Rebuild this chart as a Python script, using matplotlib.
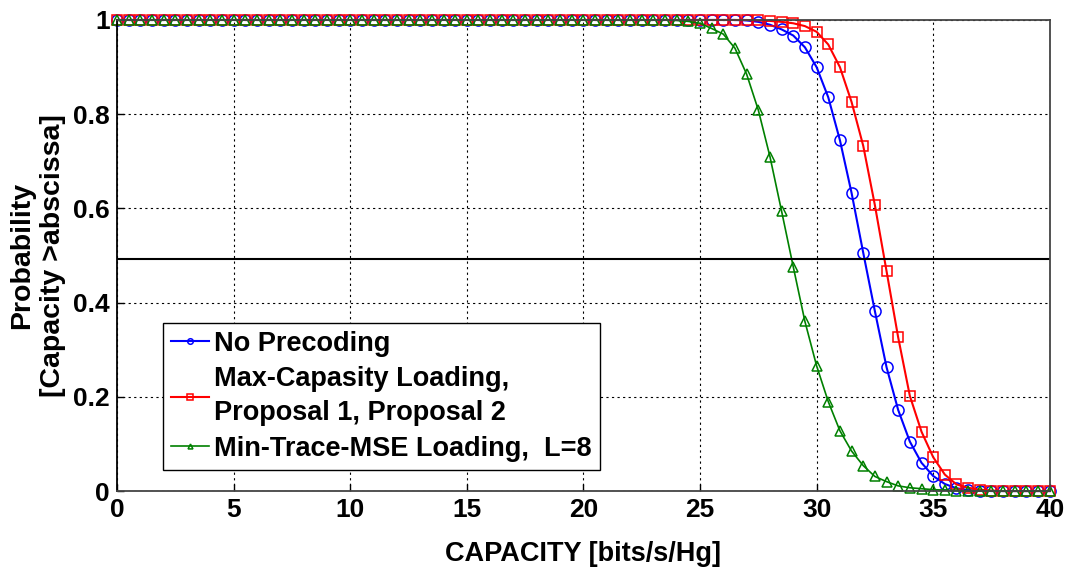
import numpy as np
import matplotlib
matplotlib.use('Agg')
import matplotlib.pyplot as plt

plt.rcParams['font.family'] = ['Liberation Sans', 'DejaVu Sans']
plt.rcParams['font.weight'] = 'bold'

# capacity grid (bits/s/Hz), one marker every 0.5
capacity = np.arange(0, 40.5, 0.5)

# P(capacity > abscissa), rows of 10 points (0-4.5, 5-9.5, ...)
no_precoding = [
    1, 1, 1, 1, 1, 1, 1, 1, 1, 1,
    1, 1, 1, 1, 1, 1, 1, 1, 1, 1,
    1, 1, 1, 1, 1, 1, 1, 1, 1, 1,
    1, 1, 1, 1, 1, 1, 1, 1, 1, 1,
    1, 1, 1, 1, 1, 1, 1, 1, 1, 1,
    1, 1, 1, 1, 0.999, 0.996, 0.99, 0.98, 0.967, 0.942,
    0.90, 0.836, 0.745, 0.633, 0.506, 0.382, 0.263, 0.172, 0.105, 0.060,
    0.032, 0.015, 0.006, 0.002, 0.001, 0, 0, 0, 0, 0,
    0,
]
max_capacity = [
    1, 1, 1, 1, 1, 1, 1, 1, 1, 1,
    1, 1, 1, 1, 1, 1, 1, 1, 1, 1,
    1, 1, 1, 1, 1, 1, 1, 1, 1, 1,
    1, 1, 1, 1, 1, 1, 1, 1, 1, 1,
    1, 1, 1, 1, 1, 1, 1, 1, 1, 1,
    1, 1, 1, 1, 1, 0.999, 0.998, 0.996, 0.993, 0.987,
    0.975, 0.948, 0.90, 0.826, 0.733, 0.607, 0.467, 0.326, 0.202, 0.126,
    0.072, 0.035, 0.014, 0.007, 0.003, 0.001, 0, 0, 0, 0,
    0,
]
min_trace_mse = [
    1, 1, 1, 1, 1, 1, 1, 1, 1, 1,
    1, 1, 1, 1, 1, 1, 1, 1, 1, 1,
    1, 1, 1, 1, 1, 1, 1, 1, 1, 1,
    1, 1, 1, 1, 1, 1, 1, 1, 1, 1,
    1, 1, 1, 1, 1, 1, 1, 1, 0.999, 0.997,
    0.993, 0.982, 0.97, 0.94, 0.885, 0.809, 0.71, 0.594, 0.476, 0.36,
    0.266, 0.19, 0.128, 0.085, 0.054, 0.031, 0.02, 0.011, 0.007, 0.005,
    0.003, 0.002, 0.001, 0, 0, 0, 0, 0, 0, 0,
    0,
]
median_level = 0.493

labels = ['No Precoding',
          'Max-Capasity Loading,\nProposal 1, Proposal 2',
          'Min-Trace-MSE Loading,  L=8']

fig = plt.figure(figsize=(10.69, 5.71), dpi=100)
ax = fig.add_axes([0.1095, 0.14, 0.8725, 0.825])

ax.plot(capacity, no_precoding, '-o', color='blue', lw=1.5, ms=8, mfc='none', mew=1.1,
        label=labels[0], clip_on=False)
ax.plot(capacity, max_capacity, '-s', color='red', lw=1.5, ms=7.5, mfc='none', mew=1.1,
        label=labels[1], clip_on=False)
ax.plot(capacity, min_trace_mse, '-^', color='green', lw=1.2, ms=7, mfc='none', mew=1.1,
        label=labels[2], clip_on=False)
ax.axhline(median_level, color='black', lw=1.5)

ax.set_xlim(0, 40)
ax.set_ylim(0, 1)
ax.set_xticks(np.arange(0, 41, 5))
ax.set_yticks([0, 0.2, 0.4, 0.6, 0.8, 1])
ax.set_yticklabels(['0', '0.2', '0.4', '0.6', '0.8', '1'])
ax.grid(True, color='black', ls=(0, (2, 3)), lw=0.8)
ax.tick_params(direction='in', labelsize=19, length=5, width=1, pad=5)
for lbl in ax.get_xticklabels() + ax.get_yticklabels():
    lbl.set_fontweight('bold')
for sp in ax.spines.values():
    sp.set_linewidth(1.3)
    sp.set_color('#444444')
ax.spines['left'].set_color('black')

ax.set_xlabel('CAPACITY [bits/s/Hg]', fontsize=19.5, fontweight='bold', labelpad=14)
ax.set_ylabel('Probability\n[Capacity >abscissa]', fontsize=20.5, fontweight='bold',
              labelpad=5, linespacing=1.25)

leg = ax.legend(loc='lower left', bbox_to_anchor=(0.049, 0.045),
                prop={'weight': 'bold', 'size': 19.5}, handlelength=1.4, markerscale=0.5,
                fancybox=False, framealpha=1, edgecolor='black', borderpad=0.3,
                labelspacing=0.35, handletextpad=0.2, borderaxespad=0)
leg.get_frame().set_linewidth(1.0)
for t in leg.get_texts():
    t.set_linespacing(1.4)

fig.savefig('out.png', dpi=100)
